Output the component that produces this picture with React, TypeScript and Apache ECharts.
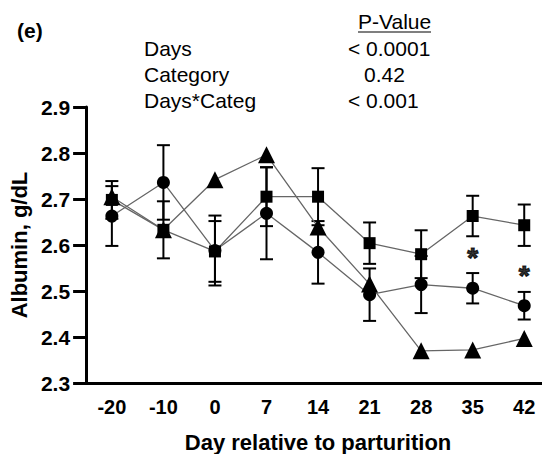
import React, { useEffect, useRef } from "react";
import * as echarts from "echarts";

const days = ["-20", "-10", "0", "7", "14", "21", "28", "35", "42"];
const squareMean = [2.698, 2.633, 2.586, 2.705, 2.705, 2.604, 2.58, 2.663, 2.643];
const squareErr = [0.041, 0.062, 0.066, 0.064, 0.062, 0.045, 0.052, 0.044, 0.045];
const circleMean = [2.663, 2.736, 2.588, 2.669, 2.584, 2.492, 2.514, 2.506, 2.468];
const circleErr = [0.065, 0.081, 0.076, 0.1, 0.068, 0.057, 0.062, 0.033, 0.03];
const triangleMean = [2.705, 2.633, 2.742, 2.796, 2.639, 2.515, 2.37, 2.372, 2.397];
const asteriskDays = ["35", "42"];
const asteriskY = [2.586, 2.546];

const statLabels = ["Days", "Category", "Days*Categ"];
const statValues = ["< 0.0001", "0.42", "< 0.001"];

const FONT = "'Liberation Sans', Arial, Helvetica, sans-serif";

function errData(mean: number[], err: number[]) {
  return mean.map((m, i) => [i, m - err[i], m + err[i]]);
}

function errorBarSeries(mean: number[], err: number[]) {
  return {
    type: "custom",
    z: 3,
    silent: true,
    data: errData(mean, err),
    encode: { x: 0, y: [1, 2] },
    renderItem: (params: any, api: any) => {
      const x = api.value(0);
      const lo = api.coord([x, api.value(1)]);
      const hi = api.coord([x, api.value(2)]);
      const hw = 6.5;
      const st = { stroke: "#000", lineWidth: 2 };
      return {
        type: "group",
        children: [
          { type: "line", shape: { x1: hi[0], y1: hi[1], x2: lo[0], y2: lo[1] }, style: st },
          { type: "line", shape: { x1: hi[0] - hw, y1: hi[1], x2: hi[0] + hw, y2: hi[1] }, style: st },
          { type: "line", shape: { x1: lo[0] - hw, y1: lo[1], x2: lo[0] + hw, y2: lo[1] }, style: st },
        ],
      };
    },
  };
}

function lineSeries(name: string, data: number[], symbol: string, size: number) {
  return {
    name,
    type: "line",
    data,
    symbol,
    symbolSize: size,
    z: 5,
    lineStyle: { color: "#666", width: 1.3 },
    itemStyle: { color: "#000" },
  };
}

export default function App() {
  const ref = useRef<HTMLDivElement>(null);
  useEffect(() => {
    if (!ref.current) return;
    const chart = echarts.init(ref.current, null, { renderer: "svg" });
    const textRows: any[] = [];
    const rowY = [48, 74, 100];
    statLabels.forEach((t, i) => {
      textRows.push({
        type: "text",
        x: 144,
        y: rowY[i],
        style: { text: t, font: `21px ${FONT}`, fill: "#000", verticalAlign: "middle" },
      });
    });
    const valX = [348, 364, 348];
    statValues.forEach((t, i) => {
      textRows.push({
        type: "text",
        x: valX[i],
        y: rowY[i],
        style: { text: t, font: `21px ${FONT}`, fill: "#000", verticalAlign: "middle" },
      });
    });
    chart.setOption({
      animation: false,
      backgroundColor: "#fff",
      grid: { left: 83, top: 107, width: 471, height: 276 },
      graphic: [
        {
          type: "text",
          x: 17,
          y: 30,
          style: { text: "(e)", font: `bold 21px ${FONT}`, fill: "#000", verticalAlign: "middle" },
        },
        {
          type: "text",
          x: 358,
          y: 21,
          style: { text: "P-Value", font: `21px ${FONT}`, fill: "#000", verticalAlign: "middle" },
        },
        {
          type: "line",
          shape: { x1: 358, y1: 32, x2: 431, y2: 32 },
          style: { stroke: "#000", lineWidth: 1.2 },
        },
        ...textRows,
      ],
      xAxis: {
        type: "category",
        data: days,
        boundaryGap: true,
        name: "Day relative to parturition",
        nameLocation: "middle",
        nameGap: 48,
        nameTextStyle: { fontFamily: FONT, fontWeight: "bold", fontSize: 22, color: "#000" },
        axisLine: { lineStyle: { color: "#000", width: 3 } },
        axisTick: { alignWithLabel: true, length: 9, lineStyle: { color: "#000", width: 3 } },
        axisLabel: { fontFamily: FONT, fontWeight: "bold", fontSize: 20, color: "#000", margin: 14 },
      },
      yAxis: {
        type: "value",
        min: 2.3,
        max: 2.9,
        interval: 0.1,
        name: "Albumin, g/dL",
        nameLocation: "middle",
        nameGap: 56,
        nameTextStyle: { fontFamily: FONT, fontWeight: "bold", fontSize: 22, color: "#000" },
        splitLine: { show: false },
        axisLine: { show: true, lineStyle: { color: "#000", width: 3 } },
        axisTick: { show: true, length: 13, lineStyle: { color: "#000", width: 3 } },
        axisLabel: {
          fontFamily: FONT,
          fontWeight: "bold",
          fontSize: 21,
          color: "#000",
          margin: 16,
          formatter: (v: number) => v.toFixed(1),
        },
      },
      series: [
        errorBarSeries(squareMean, squareErr),
        errorBarSeries(circleMean, circleErr),
        lineSeries("Triangle", triangleMean, "triangle", 17),
        lineSeries("Circle", circleMean, "circle", 13),
        lineSeries("Square", squareMean, "rect", 12),
        {
          type: "scatter",
          symbolSize: 0,
          z: 6,
          itemStyle: { color: "#000" },
          data: asteriskDays.map((d, i) => [d, asteriskY[i]]),
          label: {
            show: true,
            position: "inside",
            formatter: "*",
            fontFamily: FONT,
            fontWeight: "bold",
            fontSize: 28,
            color: "#000",
            textBorderWidth: 1.2,
            textBorderColor: "#000",
            offset: [0, 6],
          },
        },
      ],
    });
    return () => chart.dispose();
  }, []);
  return <div ref={ref} style={{ width: 550, height: 462, margin: -8 }} />;
}
